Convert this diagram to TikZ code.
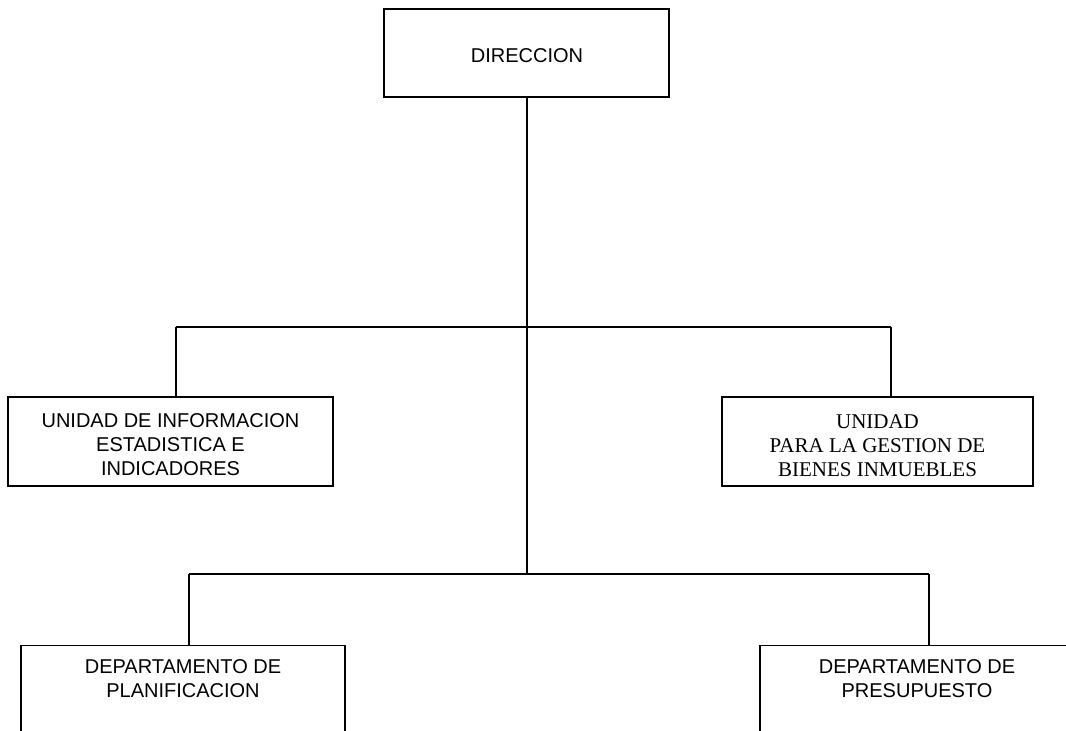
\documentclass[tikz,border=0pt]{standalone}
\usepackage{fontspec}
\setmainfont{Liberation Sans}
\newfontfamily\serifface{Liberation Serif}
\begin{document}
\begin{tikzpicture}[x=1pt,y=-1pt,
  orgbox/.style={draw=black, line width=1.4pt, rectangle, inner sep=0pt},
  link/.style={draw=black, line width=1.4pt},
  lbl/.style={align=center, font=\fontsize{20}{24}\selectfont, inner sep=0pt}]
\useasboundingbox (0,0) rectangle (1066,731);
\clip (0,0) rectangle (1066,731);
% boxes
\node[orgbox, minimum width=285pt, minimum height=88pt] (dir) at (526.5,53) {};
\node[lbl] (dirt) at (527,56) {DIRECCION};
\node[orgbox, minimum width=325pt, minimum height=89pt] (uie) at (170.5,441.5) {};
\node[lbl] (uiet) at (170.5,445) {UNIDAD DE INFORMACION\\ESTADISTICA E\\INDICADORES};
\node[orgbox, minimum width=311pt, minimum height=89pt] (ugb) at (877.5,441.5) {};
\node[lbl, font=\serifface\fontsize{21}{24}\selectfont] (ugbt) at (877.5,446) {UNIDAD\\PARA LA GESTION DE\\BIENES INMUEBLES};
\node[orgbox, minimum width=324pt, minimum height=140pt, anchor=north] (plan) at (183,645) {};
\node[lbl] (plant) at (183,679) {DEPARTAMENTO DE\\PLANIFICACION};
\node[orgbox, minimum width=314pt, minimum height=140pt, anchor=north] (pres) at (917,645) {};
\node[lbl] (prest) at (917,679) {DEPARTAMENTO DE\\PRESUPUESTO};
% junction coordinates
\coordinate (j1) at (527,327);
\coordinate (j1l) at (176,327);
\coordinate (j1r) at (891,327);
\coordinate (j2) at (527,574);
\coordinate (j2l) at (189,574);
\coordinate (j2r) at (929,574);
% connectors
\draw[link] (j1 |- dir.south) -- (j2);
\draw[link] (j1l) -- (j1r);
\draw[link] (j1l) -- (j1l |- uie.north);
\draw[link] (j1r) -- (j1r |- ugb.north);
\draw[link] (j2l) -- (j2r);
\draw[link] (j2l) -- (j2l |- plan.north);
\draw[link] (j2r) -- (j2r |- pres.north);
\end{tikzpicture}
\end{document}
